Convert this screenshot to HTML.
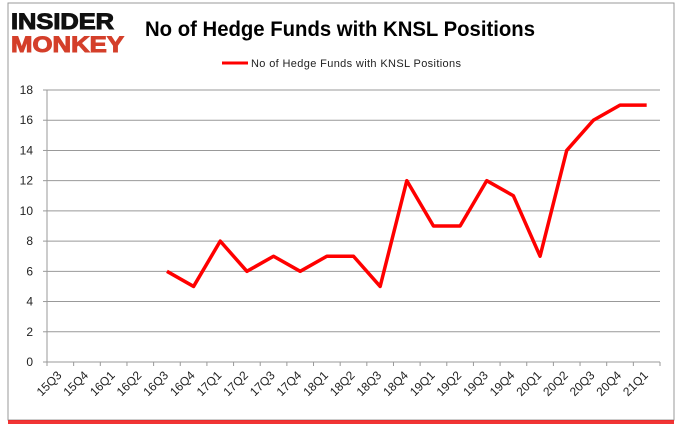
<!DOCTYPE html>
<html><head><meta charset="utf-8"><style>
body{margin:0;background:#fff;width:680px;height:433px;overflow:hidden;font-family:"Liberation Sans",sans-serif}
</style></head><body>
<svg width="680" height="433">
<rect x="8" y="3" width="666" height="417" fill="#fff" stroke="#999"/>
<rect x="8" y="420" width="666" height="4" fill="#e11" opacity="0.85"/>
<g>
<text x="11" y="29" font-size="22" font-weight="bold" fill="#111" stroke="#111" stroke-width="1" textLength="103" lengthAdjust="spacingAndGlyphs">INSIDER</text>
<text x="11" y="52" font-size="22" font-weight="bold" fill="#d43f2a" stroke="#d43f2a" stroke-width="1" textLength="113" lengthAdjust="spacingAndGlyphs">MONKEY</text>
</g>
<text x="145" y="36" font-size="21" font-weight="bold" fill="#000" textLength="390" lengthAdjust="spacingAndGlyphs">No of Hedge Funds with KNSL Positions</text>
<line x1="222" y1="63" x2="248" y2="63" stroke="red" stroke-width="3"/>
<text x="251" y="67" font-size="11" fill="#222" textLength="210">No of Hedge Funds with KNSL Positions</text>
<g id="grid"></g><g id="axes"></g>
<path id="line" fill="none" stroke="red" stroke-width="3.5" stroke-linejoin="round"/>
</svg>
<script>
const categories=["15Q3","15Q4","16Q1","16Q2","16Q3","16Q4","17Q1","17Q2","17Q3","17Q4","18Q1","18Q2","18Q3","18Q4","19Q1","19Q2","19Q3","19Q4","20Q1","20Q2","20Q3","20Q4","21Q1"];
const values=[null,null,null,null,6,5,8,6,7,6,7,7,5,12,9,9,12,11,7,14,16,17,17];
const yTicks=[0,2,4,6,8,10,12,14,16,18];
const L=47,R=660,T=90,B=362,ymax=18;
const bw=(R-L)/categories.length;
const x=i=>L+bw*(i+0.5), y=v=>B-(v/ymax)*(B-T);
const ns="http://www.w3.org/2000/svg";
const g=document.getElementById('grid'),a=document.getElementById('axes');
function mk(t,at,p){const e=document.createElementNS(ns,t);for(const k in at)e.setAttribute(k,at[k]);p.appendChild(e);return e;}
yTicks.forEach(v=>{
 if(v>0){const l=mk('line',{x1:L,x2:R,y1:y(v),y2:y(v),stroke:'#999'},g);
 
 }
 mk('line',{x1:L-4,x2:L,y1:y(v),y2:y(v),stroke:'#999'},a);
 const t=mk('text',{x:L-14,y:y(v)+4,'font-size':12,'text-anchor':'end',fill:'#222'},a);
 t.textContent=v;
 
 
});
mk('line',{x1:L,x2:L,y1:T,y2:B+4,stroke:'#999'},a);
mk('line',{x1:L,x2:R,y1:B,y2:B,stroke:'#999'},a);
for(let i=0;i<=categories.length;i++)mk('line',{x1:L+bw*i,x2:L+bw*i,y1:B,y2:B+4,stroke:'#999'},a);
categories.forEach((c,i)=>{
 const cx=x(i)+2,cy=B+14;
 const t=mk('text',{x:cx,y:cy,'font-size':12,'text-anchor':'end',fill:'#222',transform:`rotate(-45 ${cx} ${cy})`},a);
 t.textContent=c;
 
 
});
let d='';values.forEach((v,i)=>{if(v==null)return;d+=(d?'L':'M')+x(i)+' '+y(v);});
document.getElementById('line').setAttribute('d',d);
</script>
</body></html>
